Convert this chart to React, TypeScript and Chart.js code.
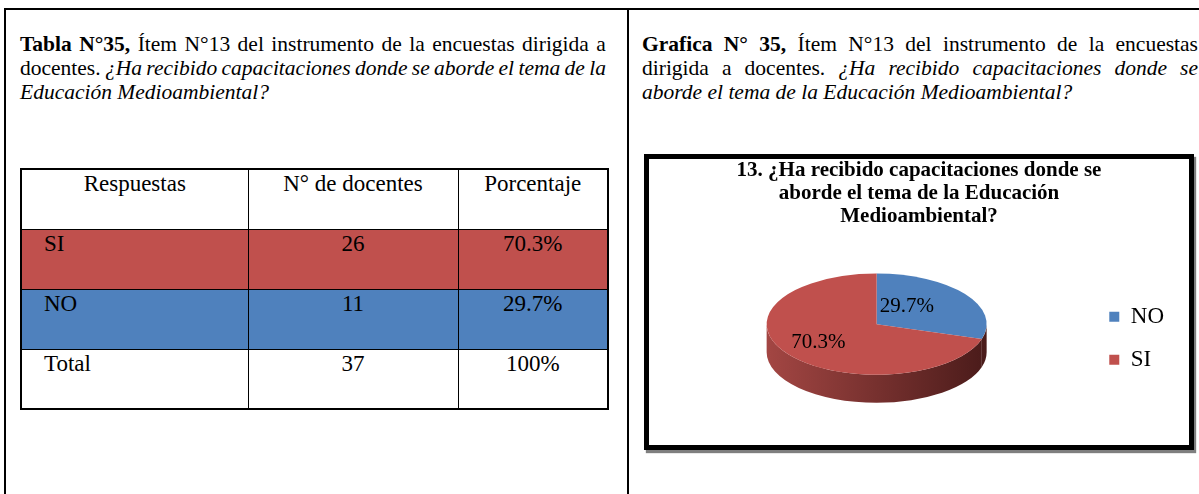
import React, { useEffect, useRef } from 'react';
import { Chart, registerables } from 'chart.js';

Chart.register(...registerables);

// ---- data ----
const categories = ['NO', 'SI'];
const docentes = [11, 26];
const percentLabels = ['29.7%', '70.3%'];
const sliceColors = ['#4F81BD', '#C0504D'];
const wallLight = ['#7A3331', '#A34643'];
const wallDark = ['#4A1B1A', '#4A1B1A'];
const chartTitle = [
  '13. ¿Ha recibido capacitaciones donde se',
  'aborde el tema de la Educación',
  'Medioambiental?',
];
const tableHeader = ['Respuestas', 'N° de docentes', 'Porcentaje'];
const tableRows = ['SI', 'NO', 'Total'];
const tableCounts = [26, 11, 37];
const tablePercents = ['70.3%', '29.7%', '100%'];
const tableRowColors = ['#C0504D', '#4F81BD', '#FFFFFF'];

const SERIF = "'Liberation Serif', 'Times New Roman', serif";
const TILT = 0.46;
const DEPTH = 28;
const LABEL_RX = 0.5;
const LABEL_RY = 0.6;
const LABEL_DX = -14;

const pie3d = {
  id: 'pie3d',
  beforeDatasetsDraw(chart: any) {
    const meta = chart.getDatasetMeta(0);
    const ctx = chart.ctx;
    ctx.save();
    if (!meta.data.length) return;
    const a0: any = meta.data[0];
    const cx = a0.x;
    const cy = a0.y;
    const rx = a0.outerRadius;
    const ry = rx * TILT;
    const topY = cy - DEPTH / 2;
    meta.data.forEach((arc: any, i: number) => {
      const s = arc.startAngle;
      const e = arc.endAngle;
      for (const off of [-2 * Math.PI, 0, 2 * Math.PI]) {
        const a = Math.max(s + off, 0);
        const b = Math.min(e + off, Math.PI);
        if (b > a) {
          const g = ctx.createLinearGradient(cx - rx, 0, cx + rx, 0);
          g.addColorStop(0, wallLight[i]);
          g.addColorStop(1, wallDark[i]);
          ctx.beginPath();
          ctx.ellipse(cx, topY, rx, ry, 0, a, b, false);
          ctx.ellipse(cx, topY + DEPTH, rx, ry, 0, b, a, true);
          ctx.closePath();
          ctx.fillStyle = g;
          ctx.fill();
        }
      }
    });
    ctx.translate(0, topY - cy * TILT);
    ctx.scale(1, TILT);
  },
  afterDatasetsDraw(chart: any) {
    const ctx = chart.ctx;
    ctx.restore();
    const meta = chart.getDatasetMeta(0);
    if (!meta.data.length) return;
    const a0: any = meta.data[0];
    const cx = a0.x;
    const cy = a0.y;
    const topY = cy - DEPTH / 2;
    ctx.save();
    ctx.font = `21px ${SERIF}`;
    ctx.fillStyle = '#000';
    ctx.textAlign = 'center';
    ctx.textBaseline = 'middle';
    meta.data.forEach((arc: any, i: number) => {
      const mid = (arc.startAngle + arc.endAngle) / 2;
      const r = arc.outerRadius;
      const x = cx + Math.cos(mid) * r * LABEL_RX + LABEL_DX;
      const y = topY + Math.sin(mid) * r * LABEL_RY * TILT;
      ctx.fillText(percentLabels[i], x, y);
    });
    ctx.restore();
  },
};

function PieChart() {
  const ref = useRef<HTMLCanvasElement | null>(null);
  useEffect(() => {
    if (!ref.current) return;
    Chart.defaults.color = '#000';
    const chart = new Chart(ref.current, {
      type: 'pie',
      data: {
        labels: categories,
        datasets: [
          {
            data: docentes,
            backgroundColor: sliceColors,
            borderWidth: 0,
            radius: 110,
            clip: false,
          } as any,
        ],
      },
      options: {
        animation: false,
        responsive: true,
        maintainAspectRatio: false,
        layout: { padding: { left: 15, right: 15, top: 0, bottom: 7 } },
        plugins: {
          tooltip: { enabled: false },
          title: {
            display: true,
            text: chartTitle,
            color: '#000',
            font: { family: SERIF, size: 21, weight: 'bold', lineHeight: 1.1 },
            padding: { top: 0, bottom: 10 },
          },
          legend: {
            position: 'right',
            fullSize: false,
            labels: {
              boxWidth: 10,
              boxHeight: 10,
              padding: 20,
              color: '#000',
              font: { family: SERIF, size: 23 },
            },
          },
        },
      },
      plugins: [pie3d],
    });
    return () => chart.destroy();
  }, []);
  return (
    <div style={{ position: 'relative', width: '100%', height: '100%' }}>
      <canvas ref={ref} />
    </div>
  );
}

export default function App() {
  const cellBase: React.CSSProperties = {
    border: '1px solid #000',
    height: 60,
    boxSizing: 'border-box',
    verticalAlign: 'top',
    padding: '1px 8px 0 8px',
    fontSize: 23,
    lineHeight: '26px',
  };
  const lineRow: React.CSSProperties = {
    display: 'flex',
    justifyContent: 'space-between',
    height: 24,
    whiteSpace: 'nowrap',
  };
  return (
    <div
      style={{
        position: 'absolute',
        left: 0,
        top: 0,
        width: 1199,
        height: 494,
        overflow: 'hidden',
        background: '#fff',
        fontFamily: SERIF,
        color: '#000',
      }}
    >
      {/* outer frame */}
      <div style={{ position: 'absolute', left: 4, top: 8, width: 1400, height: 800, borderLeft: '2px solid #000', borderTop: '2px solid #000' }} />
      <div style={{ position: 'absolute', left: 627, top: 8, width: 2, height: 800, background: '#000' }} />

      {/* left caption */}
      <div style={{ position: 'absolute', left: 20, top: 32, width: 586, fontSize: 21.5, lineHeight: '24px' }}>
        <div style={lineRow}>
          {'Tabla N°35, Ítem N°13 del instrumento de la encuestas dirigida a'.split(' ').map((w, i) => (
            <span key={i} style={{ fontWeight: i < 2 ? 'bold' : 'normal' }}>{w}</span>
          ))}
        </div>
        <div style={lineRow}>
          {'docentes. ¿Ha recibido capacitaciones donde se aborde el tema de la'.split(' ').map((w, i) => (
            <span key={i} style={{ fontStyle: i < 1 ? 'normal' : 'italic' }}>{w}</span>
          ))}
        </div>
        <div style={{ fontStyle: 'italic', height: 24 }}>Educación Medioambiental?</div>
      </div>

      {/* left table */}
      <table
        style={{
          position: 'absolute',
          left: 20,
          top: 168,
          width: 587,
          borderCollapse: 'collapse',
          border: '2px solid #000',
          tableLayout: 'fixed',
          fontFamily: SERIF,
        }}
      >
        <colgroup>
          <col style={{ width: 227 }} />
          <col style={{ width: 210 }} />
          <col style={{ width: 150 }} />
        </colgroup>
        <tbody>
          <tr>
            {tableHeader.map((h, i) => (
              <td key={i} style={{ ...cellBase, textAlign: 'center' }}>{h}</td>
            ))}
          </tr>
          {tableRows.map((r, i) => (
            <tr key={r} style={{ background: tableRowColors[i] }}>
              <td style={{ ...cellBase, textAlign: 'left', paddingLeft: 22 }}>{r}</td>
              <td style={{ ...cellBase, textAlign: 'center' }}>{tableCounts[i]}</td>
              <td style={{ ...cellBase, textAlign: 'center' }}>{tablePercents[i]}</td>
            </tr>
          ))}
        </tbody>
      </table>

      {/* right caption */}
      <div style={{ position: 'absolute', left: 642, top: 32, width: 556, fontSize: 21.5, lineHeight: '24px' }}>
        <div style={lineRow}>
          {['Grafica', 'N°', '35,', 'Ítem', 'N°13', 'del', 'instrumento', 'de', 'la', 'encuestas'].map((w, i) => (
            <span key={i} style={{ fontWeight: i < 3 ? 'bold' : 'normal' }}>{w}</span>
          ))}
        </div>
        <div style={lineRow}>
          {'dirigida a docentes. ¿Ha recibido capacitaciones donde se'.split(' ').map((w, i) => (
            <span key={i} style={{ fontStyle: i < 3 ? 'normal' : 'italic' }}>{w}</span>
          ))}
        </div>
        <div style={{ fontStyle: 'italic', height: 24 }}>aborde el tema de la Educación Medioambiental?</div>
      </div>

      {/* chart box */}
      <div
        style={{
          position: 'absolute',
          left: 644,
          top: 154,
          width: 550,
          height: 296,
          boxSizing: 'border-box',
          border: '5px solid #000',
          boxShadow: '2px 3px 1px rgba(0,0,0,0.5)',
          background: '#fff',
        }}
      >
        <PieChart />
      </div>
    </div>
  );
}
